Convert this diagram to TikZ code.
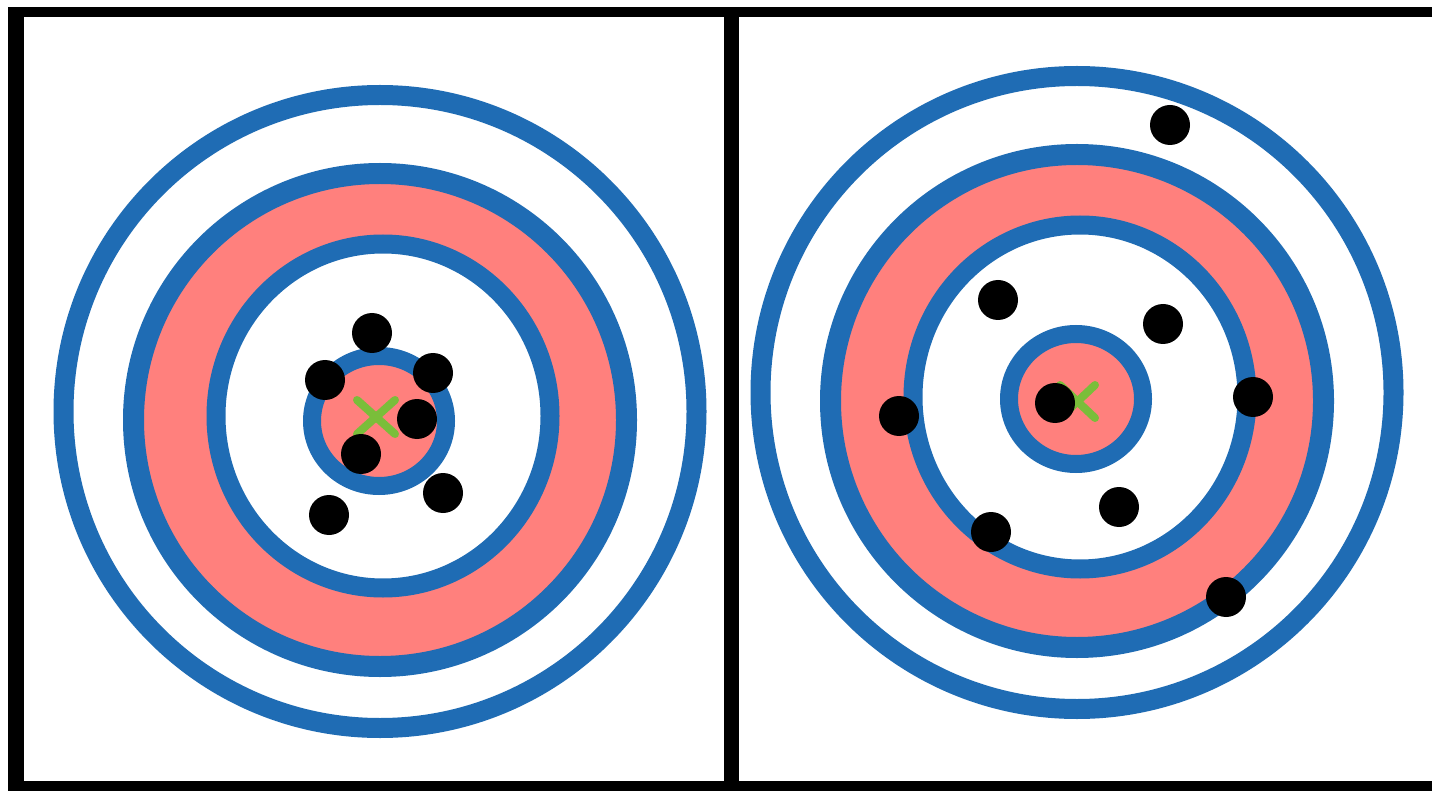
\documentclass[tikz,border=0pt]{standalone}
\usepackage{tikz}
\usetikzlibrary{calc}
\definecolor{ringblue}{RGB}{31,108,180}
\definecolor{zonered}{RGB}{255,128,125}
\definecolor{markgreen}{RGB}{122,190,58}
\begin{document}
\begin{tikzpicture}[x=1pt,y=-1pt]
        \useasboundingbox (0,0) rectangle (1432,791);
        % Draw the frame
        \fill[white] (0,0) rectangle (1432,791);
        \fill[black] (8,7) rectangle (1432,17);
        \fill[black] (8,781) rectangle (1432,791);
        \fill[black] (8,7) rectangle (24,791);
        \fill[black] (724,7) rectangle (739,791);
        %left target: zones
        \fill[zonered] (380,420) circle (246.5pt);
        \fill[white] (383,416) circle [x radius=167pt, y radius=172pt];
        \fill[zonered] (379,421) circle [x radius=67pt, y radius=65pt];
        %left target: rings
        \draw[ringblue,line width=20pt] (380,411.5) circle (316.5pt);
        \draw[ringblue,line width=21pt] (380,420) circle (246.5pt);
        \draw[ringblue,line width=19pt] (383,416) circle [x radius=167pt, y radius=172pt];
        \draw[ringblue,line width=18pt] (379,421) circle [x radius=67pt, y radius=65pt];
        %right target: zones
        \fill[zonered] (1077,401) circle (246.5pt);
        \fill[white] (1080,397) circle [x radius=167pt, y radius=172pt];
        \fill[zonered] (1076,399) circle [x radius=67pt, y radius=65pt];
        %right target: rings
        \draw[ringblue,line width=20pt] (1077,392.5) circle (316.5pt);
        \draw[ringblue,line width=21pt] (1077,401) circle (246.5pt);
        \draw[ringblue,line width=19pt] (1080,397) circle [x radius=167pt, y radius=172pt];
        \draw[ringblue,line width=18pt] (1076,399) circle [x radius=67pt, y radius=65pt];
        % aim marks
        \draw[markgreen,line width=8pt,line cap=round] (357,400) -- (395,434);
        \draw[markgreen,line width=8pt,line cap=round] (395,400) -- (357,434);
        \draw[markgreen,line width=8pt,line cap=round] (1060,385) -- (1095,418);
        \draw[markgreen,line width=8pt,line cap=round] (1095,385) -- (1060,418);
        % Mark hits (left)
        \fill (372,333) circle (20pt);
        \fill (325,380) circle (20pt);
        \fill (433,373) circle (20pt);
        \fill (417,419) circle (20pt);
        \fill (361,454) circle (20pt);
        \fill (443,493) circle (20pt);
        \fill (329,515) circle (20pt);
        % Mark hits (right)
        \fill (1170,125) circle (20pt);
        \fill (998,300) circle (20pt);
        \fill (1163,324) circle (20pt);
        \fill (1253,397) circle (20pt);
        \fill (899,416) circle (20pt);
        \fill (1055,403) circle (20pt);
        \fill (1119,507) circle (20pt);
        \fill (991,532) circle (20pt);
        \fill (1226,597) circle (20pt);
      \end{tikzpicture}
\end{document}
